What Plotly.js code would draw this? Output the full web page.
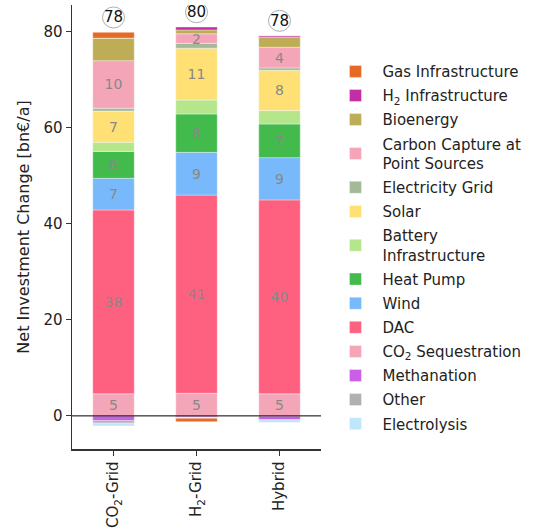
<!DOCTYPE html>
<html>
<head>
<meta charset="utf-8">
<script src="https://cdn.plot.ly/plotly-3.0.1.min.js"></script>
<style>html,body{margin:0;padding:0;background:#fff;}#chart{width:541px;height:531px;}</style>
</head>
<body>
<div id="chart"></div>
<script>
var scenarios = ["CO<sub>2</sub>-Grid", "H<sub>2</sub>-Grid", "Hybrid"];

// values in bn€/a per scenario
var methanation    = [-1.0, -0.3, -0.8];
var other          = [-0.5, 0.0, 0.0];
var electrolysis   = [-0.6, -0.2, -0.6];
var co2Seq         = [4.6, 4.7, 4.6];
var dac            = [38.3, 41.3, 40.4];
var wind           = [6.6, 8.9, 8.8];
var heatPump       = [5.6, 8.0, 7.0];
var battery        = [1.9, 2.9, 2.8];
var solar          = [6.5, 10.8, 8.4];
var elecGrid       = [0.6, 1.0, 0.5];
var carbonCapture  = [9.9, 2.0, 4.3];
var bioenergy      = [4.7, 0.8, 2.1];
var h2Infra        = [0.0, 0.6, 0.3];
var gasInfra       = [1.2, -0.7, 0.0];

var series = [
  {name: "Methanation", v: methanation, c: "#c95fe6", rank: 12, label: false},
  {name: "Other", v: other, c: "#b0b0b0", rank: 13, label: false},
  {name: "Electrolysis", v: electrolysis, c: "#bfe6fb", rank: 14, label: false},
  {name: "CO<sub>2</sub> Sequestration", v: co2Seq, c: "#f3a6b7", rank: 11, label: true},
  {name: "DAC", v: dac, c: "#fe6180", rank: 10, label: true},
  {name: "Wind", v: wind, c: "#77b9fa", rank: 9, label: true},
  {name: "Heat Pump", v: heatPump, c: "#43bb4c", rank: 8, label: true},
  {name: "Battery<br>Infrastructure", v: battery, c: "#b6e68b", rank: 7, label: false},
  {name: "Solar", v: solar, c: "#ffe075", rank: 6, label: true},
  {name: "Electricity Grid", v: elecGrid, c: "#a4b99a", rank: 5, label: false},
  {name: "Carbon Capture at<br>Point Sources", v: carbonCapture, c: "#f4a6b8", rank: 4, label: true},
  {name: "Bioenergy", v: bioenergy, c: "#bead56", rank: 3, label: false},
  {name: "H<sub>2</sub> Infrastructure", v: h2Infra, c: "#c22ea8", rank: 2, label: false},
  {name: "Gas Infrastructure", v: gasInfra, c: "#e66a26", rank: 1, label: false}
];

var traces = series.map(function(s, k){
  var t = {
    type: "bar", name: s.name, x: scenarios, y: s.v,
    marker: {color: s.c, line: {color: "rgba(255,255,255,0.6)", width: 0.6}},
    legendrank: s.rank, legendgroup: "g" + s.rank, width: 0.5, hoverinfo: "name+y"
  };
  if (s.label) {
    t.text = s.v.map(function(v){ return String(Math.round(v)); });
    t.textposition = "inside";
    t.insidetextanchor = "middle";
    t.constraintext = "none";
    t.textangle = 0;
    t.textfont = {color: "#888888", size: 14, family: "DejaVu Sans"};
  } else {
    t.textposition = "none";
  }
  return t;
});

// totals
var posTop = scenarios.map(function(_, i){
  var s = 0; series.forEach(function(se){ if (se.v[i] > 0) s += se.v[i]; }); return s;
});
var net = scenarios.map(function(_, i){
  var s = 0; series.forEach(function(se){ s += se.v[i]; }); return s;
});

var shapes = [];
var annotations = [];
scenarios.forEach(function(sc, i){
  var yc = posTop[i] + 3.1;
  shapes.push({type: "circle", xref: "x", yref: "y", xsizemode: "pixel", ysizemode: "pixel",
    xanchor: i, yanchor: yc, x0: -11, x1: 11, y0: -10.5, y1: 10.5,
    line: {color: "#999999", width: 0.8}, fillcolor: "rgba(0,0,0,0)"});
  annotations.push({x: i, y: yc, xref: "x", yref: "y", text: String(Math.round(net[i])),
    showarrow: false, font: {size: 15, color: "#111", family: "DejaVu Sans"}});
});
shapes.push({type: "line", xref: "paper", yref: "y", x0: 0, x1: 1, y0: 0, y1: 0,
  line: {color: "#000", width: 1}});

var layout = {
  width: 541, height: 531,
  margin: {l: 72, r: 220, t: 5, b: 82},
  paper_bgcolor: "#fff", plot_bgcolor: "#fff",
  barmode: "relative", bargap: 0.5,
  font: {family: "DejaVu Sans", size: 15, color: "#222"},
  showlegend: true,
  legend: {x: 1.03, y: 0.887, xanchor: "left", yanchor: "top", traceorder: "grouped",
    itemwidth: 44,
    font: {size: 15, color: "#222", family: "DejaVu Sans"}, bgcolor: "rgba(0,0,0,0)", tracegroupgap: 1.6},
  xaxis: {type: "category", range: [-0.5, 2.5], showline: true, linecolor: "#333", linewidth: 1.5,
    ticks: "outside", ticklen: 5, tickcolor: "#333", tickangle: -90,
    tickfont: {size: 15, color: "#222"}, showgrid: false, zeroline: false},
  yaxis: {range: [-6.9, 85.6], showline: true, linecolor: "#333", linewidth: 1.5,
    ticks: "outside", ticklen: 5, tickcolor: "#333", tickvals: [0, 20, 40, 60, 80],
    tickfont: {size: 15, color: "#222"}, showgrid: false, zeroline: false,
    title: {text: "Net Investment Change [bn€/a]", font: {size: 16, color: "#222"}, standoff: 10}},
  shapes: shapes,
  annotations: annotations
};

Plotly.newPlot("chart", traces, layout, {displayModeBar: false, staticPlot: true});
</script>
</body>
</html>
